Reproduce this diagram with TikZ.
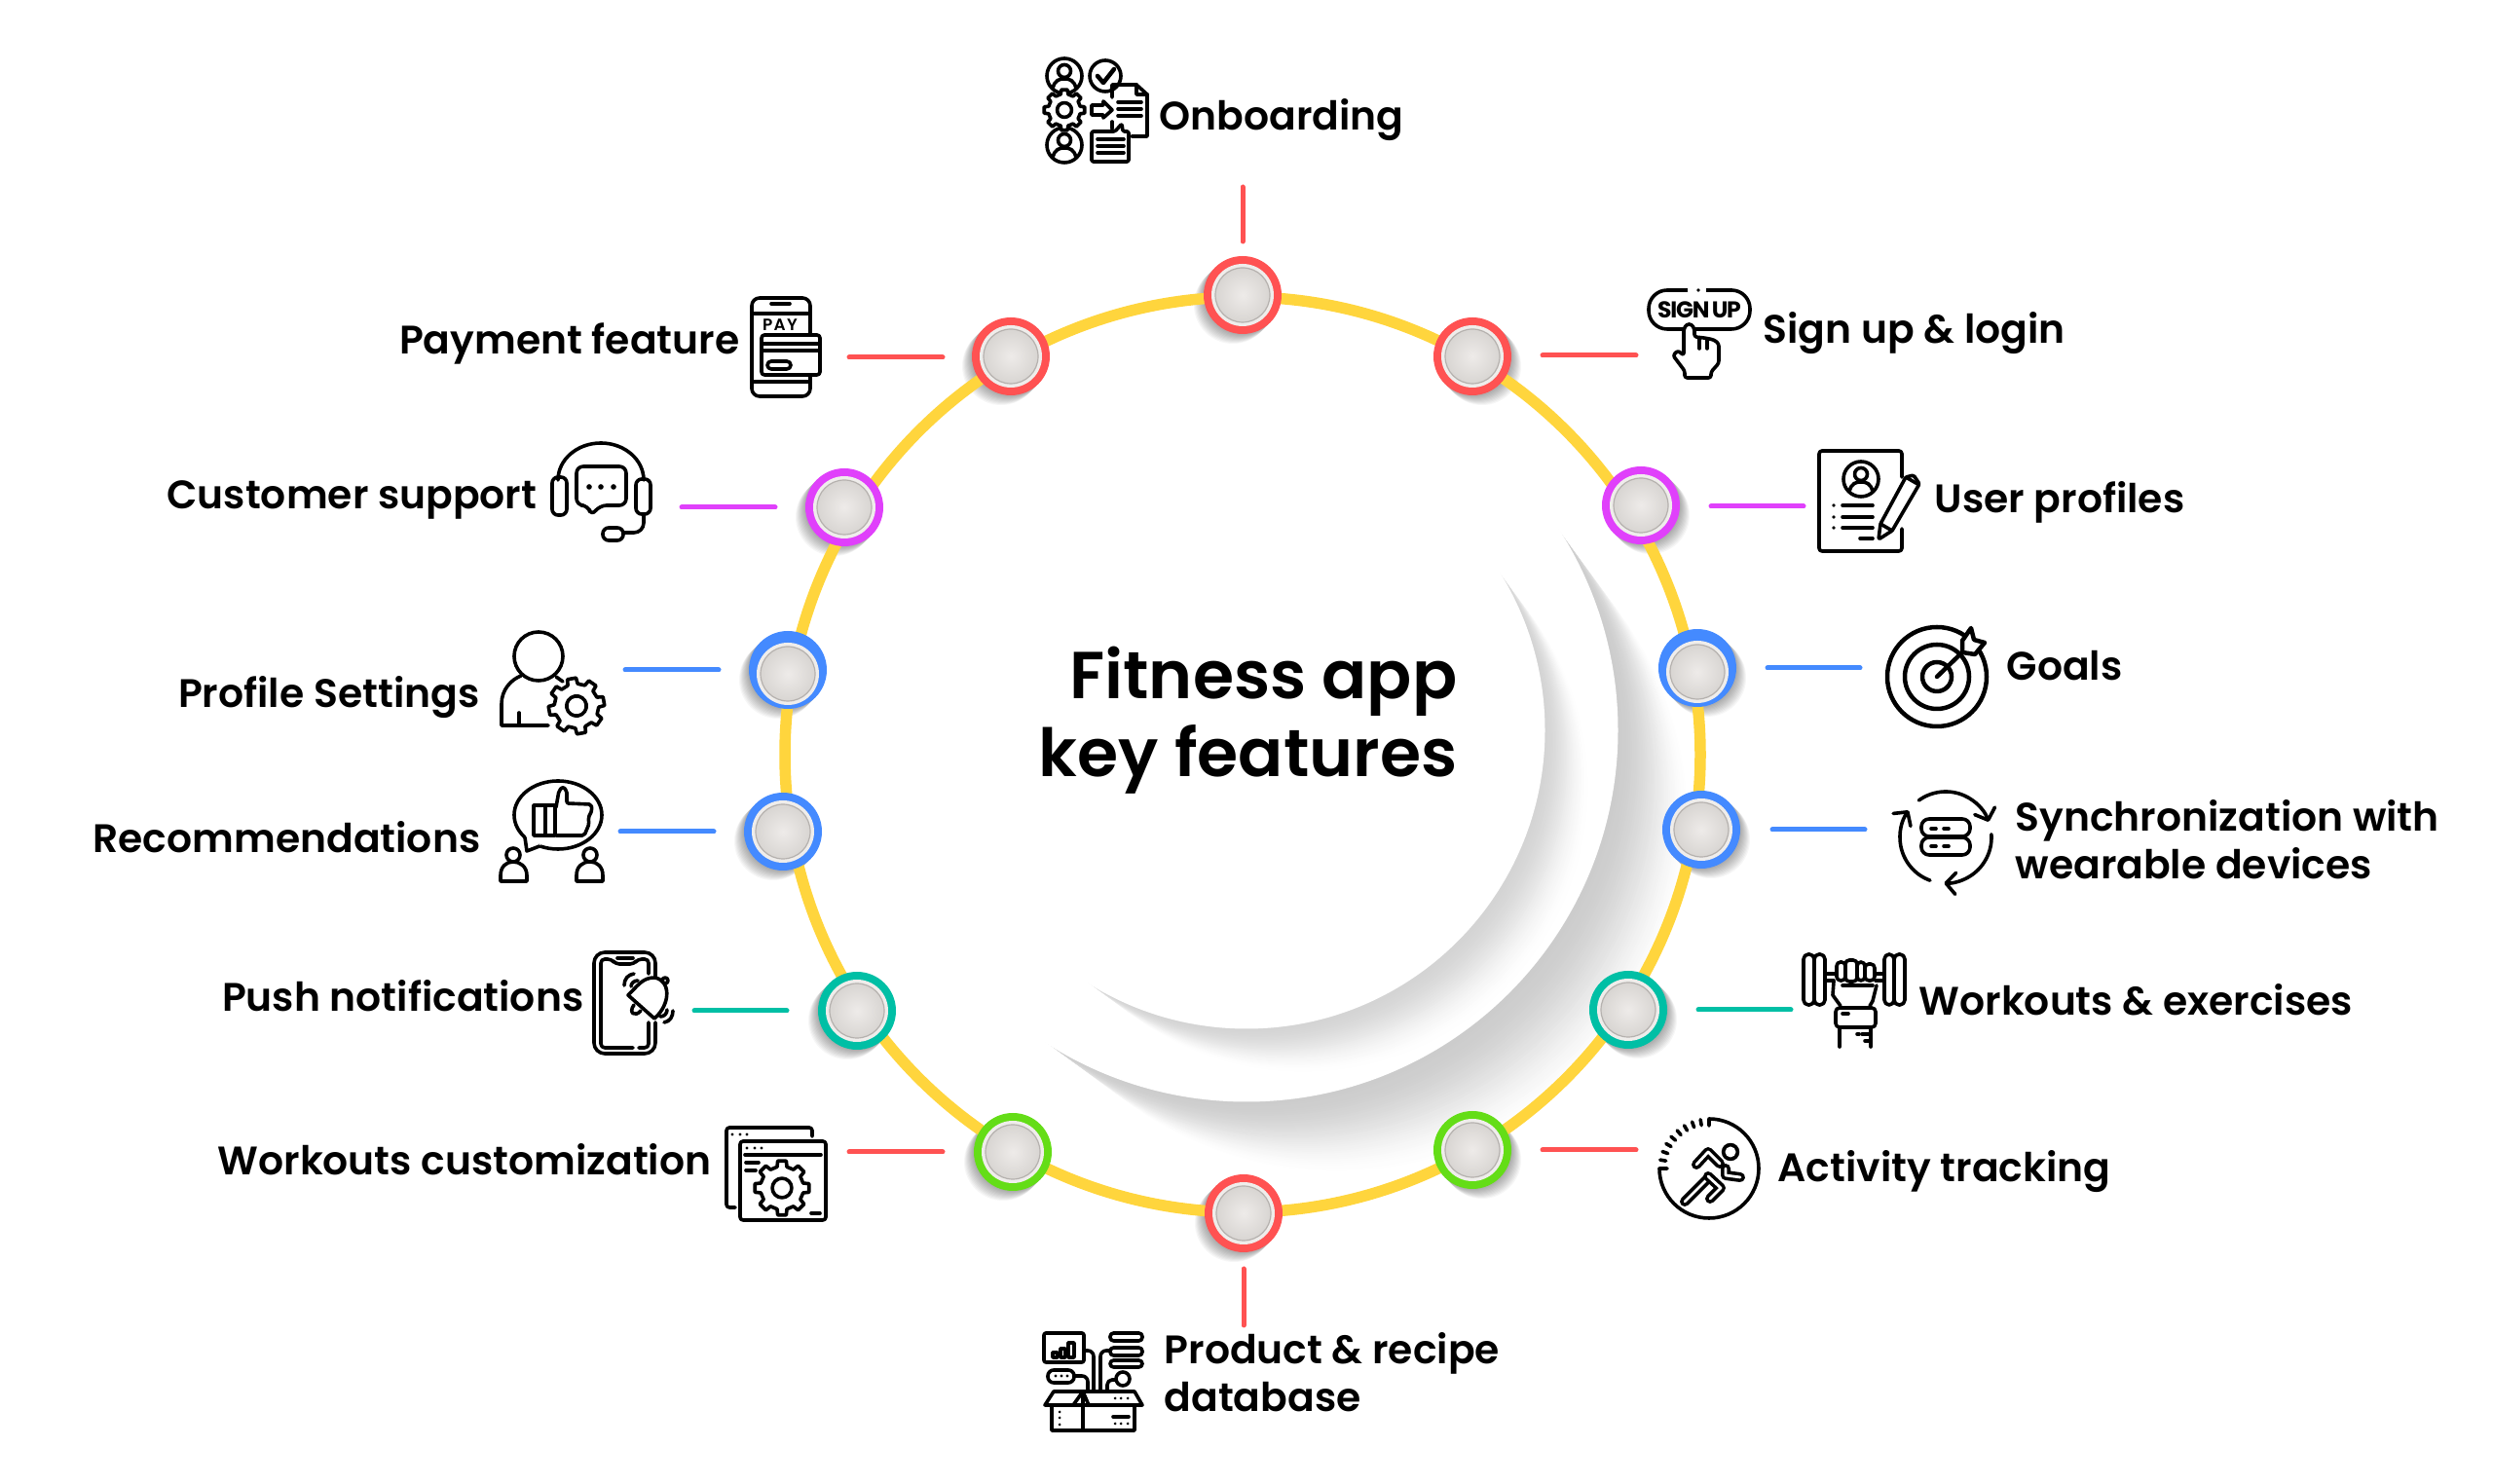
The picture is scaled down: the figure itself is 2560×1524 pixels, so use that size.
\documentclass[tikz,border=0pt]{standalone}
\usepackage{fontspec}
\setmainfont{Poppins}
\newfontfamily\labelfont{Poppins SemiBold}
\usetikzlibrary{arrows.meta}
\definecolor{cred}{HTML}{FF5252}
\definecolor{cyellow}{HTML}{FFD53D}
\definecolor{cpurple}{HTML}{E040FB}
\definecolor{cblue}{HTML}{448AFF}
\definecolor{cteal}{HTML}{00BFA5}
\definecolor{cgreen}{HTML}{64DD17}
\definecolor{dotA}{HTML}{EEEBE9}
\definecolor{dotB}{HTML}{D8D5D2}
\definecolor{dotrim}{HTML}{EFEDEB}
\definecolor{dotedge}{HTML}{B5B1AE}
\tikzset{
  ico/.style={line width=.36mm,line cap=round,line join=round},
  lead/.style={line width=.5mm,line cap=round,shorten >=.2mm,shorten <=.2mm},
  lab/.style={font=\labelfont\fontsize{11.62}{14.2}\selectfont,inner sep=0,anchor=base west,align=left},
  labr/.style={lab,anchor=base east,align=right},
  dot/.style 2 args={circle,inner sep=0,minimum size=8mm,fill=#1,path picture={
    \coordinate (dotc) at ([yshift=#2]path picture bounding box.center);
    \fill[dotrim] (dotc) circle (3.2mm);
    \shade[inner color=dotA,outer color=dotB,draw=dotedge,line width=.12mm] (dotc) circle (2.8mm);}},
  gear/.pic={
    \draw[ico,fill=white] (-13:19) \foreach \a in {0,45,...,315}{ -- (\a-13:19) -- (\a-9:24) -- (\a+9:24) -- (\a+13:19)} -- cycle;
    \draw[ico] (0,0) circle (8.5);},
  avatar/.pic={
    \draw[ico,fill=white] (0,0) circle (18);
    \draw[ico] (0,-5) circle (6.5);
    \draw[ico] (-12,13) .. controls (-10,4) and (-5,3) .. (0,3) .. controls (5,3) and (10,4) .. (12,13);}
}
\begin{document}
\begin{tikzpicture}[x=.1mm,y=-.1mm]
\useasboundingbox (0,0) rectangle (2560,1524);
\fill[white] (0,0) rectangle (2560,1524);
\foreach \k in {0,...,40}{
  \pgfmathsetmacro{\off}{100*(1-\k/40)}
  \pgfmathsetmacro{\lvl}{20*(\k/40)*(\k/40)*(3-2*\k/40)}
  \fill[black!\lvl!white] (1280+\off,750+\off) circle ({380-.22*\off});
}
\fill[white] (1280,750) circle (381.5);
\foreach \k in {0,...,30}{
  \pgfmathsetmacro{\off}{62*(1-\k/30)}
  \pgfmathsetmacro{\lvl}{17*(\k/30)*(\k/30)*(3-2*\k/30)}
  \fill[black!\lvl!white] (1280+\off,750+\off) circle ({305-.22*\off});
}
\fill[white] (1280,750) circle (306.5);
\foreach \px/\py/\ps in {1276/303/-1,1512/366/1,1685/519/1,1743/686/1,1747/852/1,1672/1037/1,1512/1181/1,1277/1246/-1,1040/1183/-1,880/1038/-1,804/854/-1,809/688/-1,867/521/-1,1038/366/-1}{
  \foreach \k in {1,...,10}
    \fill[black,opacity=.035] (\px+\ps*\k,\py+\k) circle (40);
}
\draw[cyellow,line width=1.15mm] (1276,775) circle (470);
\node[font=\labelfont\fontsize{19.4}{23}\selectfont,inner sep=0,anchor=base east,align=right] (title) at (1497,798) {Fitness app\\key features};

\node[dot={cred}{0pt}] (onb) at (1276,303) {};
\coordinate (onba) at (1276,250);
\coordinate (onbb) at (1276,190);
\draw[lead,cred] (onba) -- (onbb);
\node[lab] (onblab) at (1190,134) {Onboarding};
\pic at (1093,78) {avatar};
\pic at (1093,149) {avatar};
\pic[scale=.875] at (1093,113) {gear};
\draw[ico] (1135,78) circle (16);
\draw[ico,line width=.45mm] (1127,78) -- (1133,85) -- (1144,71);
\draw[ico] (1121,108) -- (1133,108) -- (1133,104) -- (1142,113) -- (1133,121) -- (1133,118) -- (1121,118) -- cycle;
\draw[ico] (1142,100) -- (1142,87) -- (1167,87) -- (1178,97) -- (1178,140) -- (1162,140);
\draw[ico] (1142,125) -- (1142,132);
\draw[ico] (1167,87) -- (1167,97) -- (1178,97);
\foreach \ly in {105,112,119}
  \draw[ico] (1148,\ly) -- (1172,\ly);
\draw[ico,rounded corners=.15mm] (1121,135) -- (1145,135) -- (1152,127) -- (1153,135) -- (1159,135) -- (1159,166) -- (1121,166) -- cycle;
\foreach \ly in {143,150,157}
  \draw[ico] (1127,\ly) -- (1154,\ly);

\node[dot={cred}{0pt}] (sgn) at (1512,366) {};
\coordinate (sgna) at (1582,365);
\coordinate (sgnb) at (1682,365);
\draw[lead,cred] (sgna) -- (sgnb);
\node[lab] (sgnlab) at (1810,353) {Sign up \& login};
\draw[ico,rounded corners=1.9mm] (1693,298) rectangle (1797,338);
\draw[white,line width=.9mm] (1733,298) -- (1752,298);
\fill (1744,298) circle (1.8);
\node[font=\bfseries\fontsize{6.7}{8}\selectfont,inner sep=0] (sgntxt) at (1745,318) {\addfontfeature{LetterSpace=-5}SIGN\kern.6pt UP};
\draw[ico,fill=white,rounded corners=.25mm] (1729,365) -- (1729,338) -- (1732,333) -- (1737,333) -- (1740,338) -- (1740,346) -- (1750,347) -- (1760,349) -- (1765,353) -- (1765,373) -- (1757,382) -- (1757,388) -- (1730,388) -- (1730,381) -- (1718,365) -- (1723,360) -- cycle;
\draw[ico] (1745,347) -- (1745,358);
\draw[ico] (1753,348) -- (1753,358);

\node[dot={cpurple}{0pt}] (usr) at (1685,519) {};
\coordinate (usra) at (1755,520);
\coordinate (usrb) at (1854,520);
\draw[lead,cpurple] (usra) -- (usrb);
\node[lab] (usrlab) at (1986,527) {User profiles};
\draw[ico,rounded corners=.3mm] (1953,490) -- (1953,463) -- (1868,463) -- (1868,566) -- (1953,566) -- (1953,543);
\pic at (1911,492) {avatar};
\foreach \ly in {519,531,542}{
  \fill (1883,\ly) circle (1.8);
  \draw[ico] (1892,\ly) -- (1923,\ly);
}
\draw[ico] (1910,553) -- (1923,553);
\draw[ico,rounded corners=.15mm] (1929,554) -- (1931,538) -- (1957,490) -- (1965,488) -- (1971,497) -- (1943,545) -- cycle;
\draw[ico] (1931,538) -- (1943,545);
\draw[ico] (1957,490) -- (1969,497);

\node[dot={cblue}{-4pt*.284}] (gls) at (1743,686) {};
\coordinate (glsa) at (1813,686);
\coordinate (glsb) at (1912,686);
\draw[lead,cblue] (glsa) -- (glsb);
\node[lab] (glslab) at (2060,699) {Goals};
\draw[ico,line width=.45mm] (1989,695) circle (51);
\draw[ico,line width=.45mm] (1989,695) circle (33);
\draw[ico,line width=.45mm] (1989,695) circle (15);
\draw[ico,line width=.45mm] (1989,695) -- (2017,668);
\draw[ico,line width=.45mm,fill=white] (2015,658) -- (2024,645) -- (2027,657) -- (2038,660) -- (2028,672) -- (2015,670) -- cycle;

\node[dot={cblue}{0pt}] (syn) at (1747,852) {};
\coordinate (syna) at (1818,852);
\coordinate (synb) at (1917,852);
\draw[lead,cblue] (syna) -- (synb);
\node[lab] (synlab) at (2069,903) {Synchronization with\\wearable devices};
\begin{scope}[shift={(1998,860)}]
\draw[ico,-{Straight Barb[length=1mm,width=2.2mm,round]}] (-126:47) arc (-126:-20:47);
\draw[ico,-{Straight Barb[length=1mm,width=2.2mm,round]}] (-4:47) arc (-4:92:47);
\draw[ico,-{Straight Barb[length=1mm,width=2.2mm,round]}] (110:47) arc (110:216:47);
\end{scope}
\draw[ico,rounded corners=.8mm] (1973,841) rectangle (2023,859);
\draw[ico,rounded corners=.8mm] (1973,860) rectangle (2023,878);
\foreach \ly in {851,869}{
  \draw[ico] (1983,\ly) -- (1988,\ly);
  \draw[ico] (1996,\ly) -- (2001,\ly);
}

\node[dot={cteal}{0pt}] (wrk) at (1672,1037) {};
\coordinate (wrka) at (1742,1037);
\coordinate (wrkb) at (1841,1037);
\draw[lead,cteal] (wrka) -- (wrkb);
\node[lab] (wrklab) at (1970,1043) {Workouts \& exercises};
\draw[ico,rounded corners=.5mm] (1852,980) rectangle (1863,1032);
\draw[ico,rounded corners=.5mm] (1863,980) rectangle (1874,1032);
\draw[ico,rounded corners=.5mm] (1935,980) rectangle (1945,1032);
\draw[ico,rounded corners=.5mm] (1945,980) rectangle (1956,1032);
\draw[ico] (1874,1000) -- (1886,1000);
\draw[ico] (1874,1007) -- (1883,1007);
\draw[ico] (1925,1000) -- (1935,1000);
\draw[ico] (1926,1007) -- (1935,1007);
\draw[ico,rounded corners=.4mm] (1886,988) rectangle (1895,1007);
\draw[ico,rounded corners=.4mm] (1895,986) rectangle (1907,1008);
\draw[ico,rounded corners=.4mm] (1907,988) rectangle (1915,1007);
\draw[ico,rounded corners=.4mm] (1915,990) rectangle (1925,1007);
\draw[ico] (1883,1008) -- (1882,1022) -- (1890,1033);
\draw[ico] (1927,1012) -- (1923,1028) -- (1920,1033);
\draw[ico] (1892,1012) -- (1923,1012);
\draw[ico,rounded corners=.4mm] (1885,1035) rectangle (1926,1055);
\draw[ico] (1889,1055) -- (1889,1075);
\draw[ico] (1921,1055) -- (1921,1075);
\draw[ico] (1892,1041) -- (1898,1041);
\draw[ico] (1912,1062) -- (1919,1062);
\draw[ico] (1907,1062) -- (1909,1062);
\draw[ico] (1915,1069) -- (1921,1069);

\node[dot={cgreen}{0pt}] (act) at (1512,1181) {};
\coordinate (acta) at (1582,1181);
\coordinate (actb) at (1682,1181);
\draw[lead,cred] (acta) -- (actb);
\node[lab] (actlab) at (1825,1214) {Activity tracking};
\draw[ico] (1755,1156) -- (1755,1149) arc (-90:180:51) -- (1712,1200);
\begin{scope}[shift={(1755,1200)}]
\foreach \a in {-100,-110,...,-170}
  \draw[ico] (\a:45) -- (\a:51);
\end{scope}
\draw[fill=black] (1777,1183) circle (8.5);
\fill[white] (1777,1183) circle (5.5);
\draw[ico,double=white,double distance=.28mm] (1742,1196) -- (1754,1183) -- (1766,1195);
\draw[ico,double=white,double distance=.28mm] (1772,1200) -- (1772,1207) -- (1787,1209);
\draw[ico,double=white,double distance=.28mm] (1730,1234) -- (1754,1210);
\draw[ico,double=white,double distance=.28mm] (1754,1208) -- (1767,1220) -- (1756,1231);

\node[dot={cred}{0pt}] (prd) at (1277,1246) {};
\coordinate (prda) at (1277,1301);
\coordinate (prdb) at (1277,1363);
\draw[lead,cred] (prda) -- (prdb);
\node[lab] (prdlab) at (1195,1450) {Product \& recipe\\database};
\draw[ico,rounded corners=.2mm] (1072,1369) rectangle (1113,1399);
\draw[ico] (1081,1394) rectangle (1086,1389);
\draw[ico] (1089,1394) rectangle (1094,1385);
\draw[ico] (1097,1394) rectangle (1103,1379);
\draw[ico,rounded corners=.35mm] (1140,1369) rectangle (1173,1377);
\draw[ico,rounded corners=.35mm] (1140,1384) rectangle (1173,1392);
\draw[ico,rounded corners=.35mm] (1140,1397) rectangle (1173,1404);
\draw[ico,rounded corners=.6mm] (1076,1407) rectangle (1103,1420);
\foreach \lx in {1084,1090,1096}
  \fill (\lx,1413) circle (1.6);
\draw[ico,rounded corners=.6mm] (1113,1387) -- (1123,1387) -- (1123,1428);
\draw[ico,rounded corners=.6mm] (1140,1387) -- (1130,1387) -- (1130,1428);
\draw[ico,rounded corners=.6mm] (1103,1413) -- (1117,1413) -- (1117,1428);
\draw[ico] (1153,1416) circle (7);
\draw[ico,rounded corners=.5mm] (1146,1417) -- (1137,1417) -- (1137,1428);
\draw[ico] (1080,1443) rectangle (1165,1469);
\draw[ico] (1112,1430) -- (1112,1469);
\draw[ico] (1102,1443) -- (1073,1443) -- (1082,1429) -- (1112,1429) -- (1102,1443);
\draw[ico] (1112,1429) -- (1165,1429) -- (1173,1443) -- (1118,1443) -- (1112,1429);
\foreach \ly in {1450,1456,1463}
  \fill (1088,\ly) circle (1.5);
\foreach \lx in {1145,1151,1158}{
  \fill (\lx,1436) circle (1.5);
  \fill (\lx,1462) circle (1.5);
}
\draw[ico] (1143,1455) -- (1159,1455);

\node[dot={cgreen}{0pt}] (cus) at (1040,1183) {};
\coordinate (cusa) at (970,1183);
\coordinate (cusb) at (870,1183);
\draw[lead,cred] (cusa) -- (cusb);
\node[labr] (cuslab) at (731,1207) {Workouts customization};
\draw[ico,rounded corners=.3mm] (834,1167) -- (834,1158) -- (746,1158) -- (746,1240) -- (755,1240);
\foreach \lx in {752,760,767}
  \fill (\lx,1165) circle (1.6);
\draw[ico,fill=white,rounded corners=.3mm] (760,1172) rectangle (848,1253);
\draw[ico] (765,1186) -- (843,1186);
\foreach \lx in {767,775,782}
  \fill (\lx,1179) circle (1.6);
\draw[ico] (766,1194) -- (779,1194);
\draw[ico] (766,1202) -- (776,1202);
\pic[scale=1.17] at (803,1220) {gear};
\draw[ico] (833,1246) -- (842,1246);

\node[dot={cteal}{0pt}] (psh) at (880,1038) {};
\coordinate (psha) at (810,1038);
\coordinate (pshb) at (711,1038);
\draw[lead,cteal] (psha) -- (pshb);
\node[labr] (pshlab) at (600,1039) {Push notifications};
\draw[ico,rounded corners=1.1mm] (673,1005) -- (673,978) -- (610,978) -- (610,1082) -- (673,1082) -- (673,1050);
\draw[ico,rounded corners=.4mm] (666,1000) -- (666,985) -- (655,985) -- (651,990) -- (632,990) -- (628,985) -- (617,985) -- (617,1076) -- (650,1076);
\draw[ico,rounded corners=.4mm] (656,1076) -- (666,1076) -- (666,1050);
\draw[ico] (634,984) -- (650,984);
\draw[ico,fill=white] (645,1022) .. controls (655,1012) and (660,1004) .. (672,1004) .. controls (688,1006) and (690,1030) .. (672,1046) -- cycle;
\draw[ico] (683,1007) circle (3);
\draw[ico] (651,1032) .. controls (645,1040) and (652,1045) .. (658,1038);
\draw[ico] (641,1012) .. controls (641,1005) and (645,1001) .. (651,1000);
\draw[ico] (648,1013) .. controls (648,1010) and (651,1007) .. (655,1007);
\draw[ico] (682,1050) .. controls (688,1049) and (691,1044) .. (691,1038);
\draw[ico] (678,1044) .. controls (682,1044) and (685,1041) .. (685,1037);

\node[dot={cblue}{0pt}] (rec) at (804,854) {};
\coordinate (reca) at (735,854);
\coordinate (recb) at (635,854);
\draw[lead,cblue] (reca) -- (recb);
\node[labr] (reclab) at (494,876) {Recommendations};
\draw[ico] (573,837) ellipse (45 and 35);
\fill[white] (540,858) -- (541,872) -- (556,868) -- cycle;
\draw[ico] (539,860) -- (541,874) -- (554,869);
\draw[ico] (548,827) rectangle (570,858);
\draw[ico] (560,827) -- (560,858);
\draw[ico,rounded corners=.2mm] (571,829) -- (574,812) -- (578,808) -- (582,812) -- (582,825) -- (607,826) -- (608,832) -- (604,840) -- (605,846) -- (600,858) -- (571,858);
\draw[ico] (527,878) circle (7);
\draw[ico] (514,905) -- (541,905) -- (541,899) .. controls (541,890) and (534,885) .. (527,885) .. controls (520,885) and (514,890) .. (514,899) -- cycle;
\draw[ico] (606,878) circle (7);
\draw[ico] (592,905) -- (619,905) -- (619,899) .. controls (619,890) and (613,885) .. (606,885) .. controls (598,885) and (592,890) .. (592,899) -- cycle;

\node[dot={cblue}{-4pt*.284}] (prf) at (809,688) {};
\coordinate (prfa) at (740,688);
\coordinate (prfb) at (640,688);
\draw[lead,cblue] (prfa) -- (prfb);
\node[labr] (prflab) at (493,727) {Profile Settings};
\draw[ico] (553,674) circle (25);
\draw[ico] (563,745) -- (515,745) -- (515,723) .. controls (515,708) and (525,698) .. (535,694);
\draw[ico] (571,695) -- (578,700);
\draw[ico] (533,732) -- (533,745);
\pic[scale=1.2,rotate=10] at (592,725) {gear};

\node[dot={cpurple}{0pt}] (sup) at (867,521) {};
\coordinate (supa) at (798,521);
\coordinate (supb) at (698,521);
\draw[lead,cpurple] (supa) -- (supb);
\node[labr] (suplab) at (552,523) {Customer support};
\draw[ico] (573,493) arc[start angle=180,end angle=360,x radius=44,y radius=38];
\draw[ico,rounded corners=.6mm] (567,490) rectangle (582,529);
\draw[ico,rounded corners=.6mm] (653,492) rectangle (668,528);
\draw[ico,rounded corners=.7mm] (592,479) -- (643,479) -- (643,519) -- (616,519) -- (607,530) -- (604,519) -- (592,519) -- cycle;
\foreach \lx in {605,617,630}
  \fill (\lx,500) circle (2.8);
\draw[ico,rounded corners=1mm] (661,529) -- (661,547) -- (640,547);
\draw[ico,rounded corners=.6mm] (619,542) rectangle (640,555);

\node[dot={cred}{0pt}] (pay) at (1038,366) {};
\coordinate (paya) at (970,367);
\coordinate (payb) at (870,367);
\draw[lead,cred] (paya) -- (payb);
\node[labr] (paylab) at (760,364) {Payment feature};
\draw[ico,rounded corners=.8mm] (772,306) rectangle (832,407);
\draw[ico] (772,322) -- (832,322);
\draw[ico] (772,392) -- (832,392);
\draw[ico] (792,312) -- (811,312);
\node[font=\labelfont\fontsize{4.8}{6}\selectfont,inner sep=0] (paytxt) at (801,334) {P\kern.4pt A\kern.4pt Y};
\draw[ico,fill=white,rounded corners=.3mm] (782,344) rectangle (842,385);
\draw[ico] (782,353) -- (842,353);
\draw[ico] (782,360) -- (842,360);
\draw[ico,rounded corners=.4mm] (788,371) rectangle (812,379);
\end{tikzpicture}
\end{document}
